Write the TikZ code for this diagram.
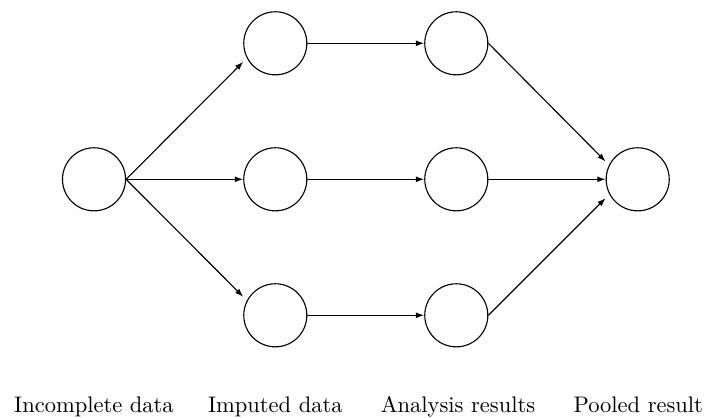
\documentclass[tikz,border=0pt]{standalone}
\usetikzlibrary{arrows.meta,calc}
\begin{document}
\begin{tikzpicture}[x=0.444pt,y=-0.444pt,
  circ/.style={circle,draw,line width=0.5pt,minimum size=28pt,inner sep=0pt},
  conn/.style={-{Latex[length=3.7pt,width=2.6pt]},line width=0.5pt},
  lbl/.style={anchor=base,inner sep=0pt,font=\fontsize{10}{12}\selectfont}]
\useasboundingbox (0,0) rectangle (704,417);
% circles
\node[circ] (L)  at (94,179.3) {};
\node[circ] (M1) at (275.3,43.3) {};
\node[circ] (M2) at (275.3,179.3) {};
\node[circ] (M3) at (275.3,315.3) {};
\node[circ] (A1) at (456.3,43.3) {};
\node[circ] (A2) at (456.3,179.3) {};
\node[circ] (A3) at (456.3,315.3) {};
\node[circ] (P)  at (637.7,179.3) {};
% connectors
\draw[conn] (L.east) -- ($(M1.west)+(0,18.5)$);
\draw[conn] (L.east) -- (M2.west);
\draw[conn] (L.east) -- ($(M3.west)+(0,-18.5)$);
\draw[conn] (M1.east) -- (A1.west);
\draw[conn] (M2.east) -- (A2.west);
\draw[conn] (M3.east) -- (A3.west);
\draw[conn] (A1.east) -- ($(P.west)+(0,-17.8)$);
\draw[conn] (A2.east) -- (P.west);
\draw[conn] (A3.east) -- ($(P.west)+(0,18.8)$);
% labels
\node[lbl] (t1) at (94,412.3) {Incomplete data};
\node[lbl] (t2) at (275.3,412.3) {Imputed data};
\node[lbl] (t3) at (458,412.3) {Analysis results};
\node[lbl] (t4) at (638.3,412.3) {Pooled result};
\end{tikzpicture}
\end{document}
